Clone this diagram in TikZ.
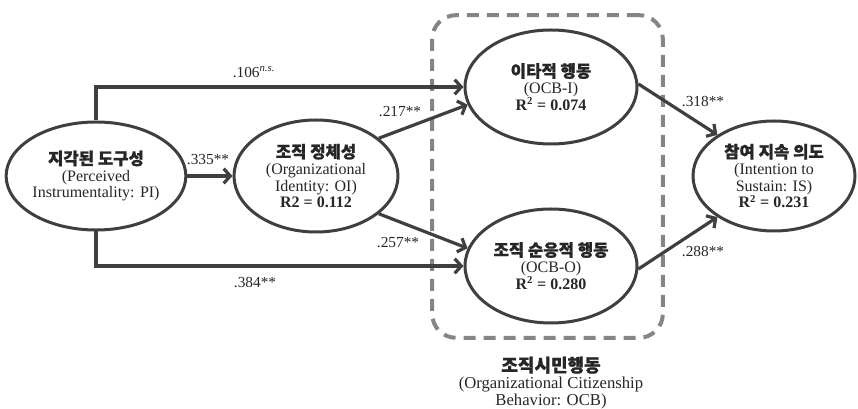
\documentclass[tikz,border=0pt]{standalone}
\usepackage{fontspec}
\usepackage{tikz}
\usetikzlibrary{shapes.geometric,arrows.meta}
\setmainfont{Liberation Serif}
\newfontfamily\krfont{Noto Sans CJK KR}[BoldFeatures={FakeBold=1.2}]
\definecolor{pathGray}{HTML}{3F3F3F}
\definecolor{boxGray}{HTML}{858585}
\newcommand{\kor}[1]{{\krfont\bfseries\fontsize{12.5}{12.5}\selectfont #1}}
\newcommand{\rsq}[1]{\textbf{R\textsuperscript{2} = #1}}
\newcommand{\pxScale}[0]{0.75pt}

\begin{document}
\begin{tikzpicture}[x=\pxScale, y=-\pxScale]
  \tikzset{
    latent/.style={ellipse, draw=pathGray, line width=2.25pt, inner sep=0pt,
      align=center, text=black!85, font=\fontsize{12}{12.5}\selectfont},
    effect/.style={draw=pathGray, line width=2.4pt,
      -{Straight Barb[length=5pt, width=11pt]}},
    coef/.style={text=black!85, font=\fontsize{11.5}{12.5}\selectfont},
    groupbox/.style={draw=boxGray, line width=3pt, dash pattern=on 9pt off 6pt,
      rounded corners=18pt, minimum width=173pt, minimum height=242pt}
  }
  \useasboundingbox (0,0) rectangle (858,409);

  \node[groupbox] (ocb) at (547.5,176.5) {};
  \node[coef, align=center, anchor=north, font=\fontsize{12.5}{12.5}\selectfont]
    (ocbLabel) at (551,352)
    {{\krfont\bfseries\fontsize{13.5}{12.5}\selectfont 조직시민행동}\\(Organizational Citizenship\\Behavior: OCB)};

  \node[latent, minimum width=130.5pt, minimum height=81pt] (pi) at (96,176)
    {\kor{지각된 도구성}\\(Perceived\\Instrumentality: PI)};
  \node[latent, minimum width=123pt, minimum height=84pt] (oi) at (316,176)
    {\kor{조직 정체성}\\(Organizational\\Identity: OI)\\\textbf{R2 = 0.112}};
  \node[latent, minimum width=129pt, minimum height=85.5pt] (ocbi) at (551,87)
    {\kor{이타적 행동}\\(OCB-I)\\\rsq{0.074}};
  \node[latent, minimum width=129pt, minimum height=85.5pt] (ocbo) at (551,266)
    {\kor{조직 순응적 행동}\\(OCB-O)\\\rsq{0.280}};
  \node[latent, minimum width=121.5pt, minimum height=82.5pt] (is) at (774,176)
    {\kor{참여 지속 의도}\\(Intention to\\Sustain: IS)\\\rsq{0.231}};

  \draw[effect] (pi) -- (oi);
  \draw[effect] (pi) |- (ocbi);
  \draw[effect] (pi) |- (ocbo);
  \draw[effect] (oi.31) -- (ocbi.192);
  \draw[effect] (oi.-31) -- (ocbo.168);
  \draw[effect] (ocbi.2) -- (is.144);
  \draw[effect] (ocbo.-2) -- (is.216);

  \node[coef] (c106) at (254,72) {.106\textsuperscript{\textit{n.s.}}};
  \node[coef] (c335) at (208,160) {.335**};
  \node[coef] (c217) at (400,112) {.217**};
  \node[coef] (c257) at (398,243) {.257**};
  \node[coef] (c384) at (255,283) {.384**};
  \node[coef] (c318) at (703,102) {.318**};
  \node[coef] (c288) at (703,252) {.288**};
\end{tikzpicture}
\end{document}
